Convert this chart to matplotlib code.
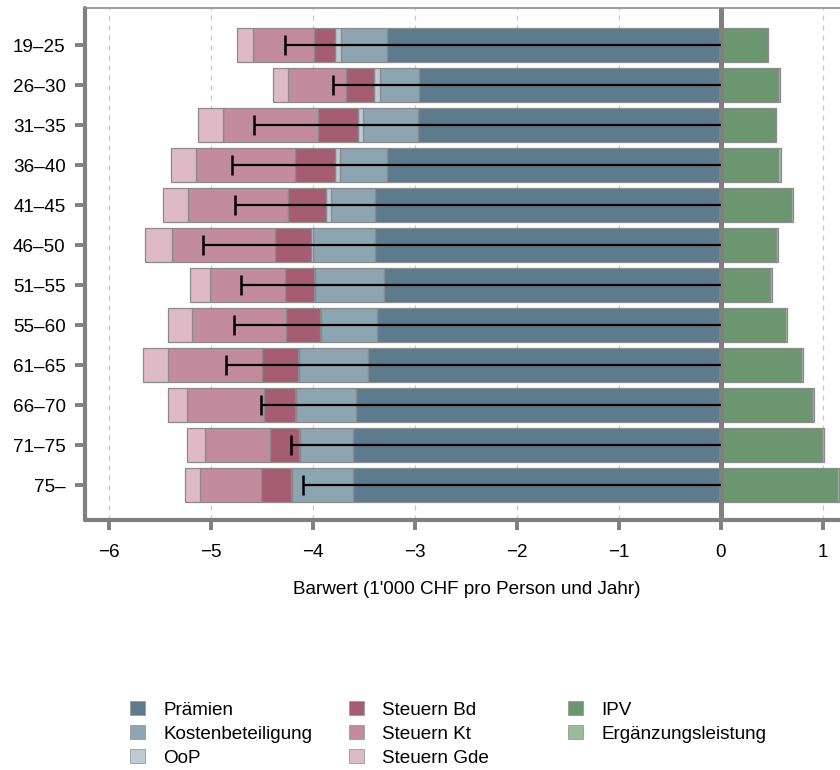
import numpy as np
import matplotlib
matplotlib.use("Agg")
import matplotlib.pyplot as plt
from matplotlib.patches import Patch

plt.rcParams['font.family'] = ['Liberation Sans', 'DejaVu Sans']

# age groups, top to bottom
groups = ["19–25", "26–30", "31–35", "36–40", "41–45", "46–50",
          "51–55", "55–60", "61–65", "66–70", "71–75", "75–"]

# costs (1'000 CHF), drawn to the left of zero
praemien = [3.27, 2.96, 2.97, 3.27, 3.385, 3.39, 3.30, 3.37, 3.46, 3.58, 3.605, 3.605]
kostenbet = [0.45, 0.38, 0.54, 0.465, 0.435, 0.61, 0.68, 0.55, 0.67, 0.58, 0.515, 0.60]
oop = [0.06, 0.06, 0.05, 0.045, 0.045, 0.02, 0.01, 0.01, 0.01, 0.01, 0.01, 0.01]
steuern_bd = [0.21, 0.27, 0.39, 0.39, 0.375, 0.35, 0.28, 0.33, 0.36, 0.31, 0.29, 0.29]
steuern_kt = [0.595, 0.57, 0.93, 0.97, 0.98, 1.01, 0.74, 0.92, 0.92, 0.75, 0.64, 0.595]
steuern_gde = [0.155, 0.145, 0.24, 0.25, 0.25, 0.26, 0.19, 0.24, 0.24, 0.19, 0.17, 0.155]

# benefits, drawn to the right of zero
ipv = [0.45, 0.565, 0.53, 0.56, 0.69, 0.54, 0.48, 0.627, 0.787, 0.895, 0.99, 1.137]
ergaenzung = [0.015, 0.015, 0.016, 0.035, 0.02, 0.02, 0.02, 0.02, 0.02, 0.02, 0.023, 0.023]

neg_series = [("Prämien", praemien, "#5d7b8d"),
              ("Kostenbeteiligung", kostenbet, "#8da4b1"),
              ("OoP", oop, "#bccbd4"),
              ("Steuern Bd", steuern_bd, "#a65d74"),
              ("Steuern Kt", steuern_kt, "#c38c9e"),
              ("Steuern Gde", steuern_gde, "#ddbac6")]
pos_series = [("IPV", ipv, "#6c9670"),
              ("Ergänzungsleistung", ergaenzung, "#9bbb9d")]

FS = 13.6

fig = plt.figure(figsize=(8.4, 7.7), dpi=100)
ax = fig.add_axes([85/840, 1 - 520/770, (849 - 85)/840, (520 - 8)/770])

y = np.arange(len(groups))
edge = "#8a8a8a"

left = np.zeros(len(groups))
for name, vals, col in neg_series:
    v = -np.array(vals)
    ax.barh(y, v, left=left, height=0.85, color=col, edgecolor=edge, linewidth=0.9, zorder=2)
    left = left + v
total_neg = left.copy()

left = np.zeros(len(groups))
for name, vals, col in pos_series:
    v = np.array(vals)
    ax.barh(y, v, left=left, height=0.85, color=col, edgecolor=edge, linewidth=0.9, zorder=2)
    left = left + v
net = total_neg + left

# zero line
ax.axvline(0, color="#808080", linewidth=3.6, zorder=3)

# net value: line from net to zero, cap at net
ax.hlines(y, net, 0, color="black", linewidth=1.6, zorder=4)
ax.vlines(net, y - 0.26, y + 0.26, color="black", linewidth=1.8, zorder=4)

ax.set_xlim(-6.232, 1.258)
ax.set_ylim(11.875, -0.925)
ax.set_xticks(np.arange(-6, 2))
ax.set_yticks(y)
ax.set_yticklabels(groups)

ax.xaxis.grid(True, color="#c8c8c8", linestyle=(0, (4, 4)), linewidth=0.9, zorder=0)
ax.set_axisbelow(True)

for s in ["left", "bottom"]:
    ax.spines[s].set_color("#808080")
    ax.spines[s].set_linewidth(3.0)
    ax.spines[s].set_capstyle("round")
ax.spines["top"].set_color("#8c8c8c")
ax.spines["top"].set_linewidth(1.2)
ax.spines["right"].set_visible(False)

ax.tick_params(axis="both", length=7, width=2.8, color="#808080", labelsize=FS,
               labelcolor="black")
ax.tick_params(axis="y", pad=7)
ax.tick_params(axis="x", pad=10)
for t in ax.yaxis.get_ticklines() + ax.xaxis.get_ticklines():
    t.set_solid_capstyle("round")

ax.set_xlabel("Barwert (1'000 CHF pro Person und Jahr)", fontsize=FS, labelpad=15)

# legend: three equally spaced columns
entries = neg_series + pos_series
cols = [entries[0:3], entries[3:6], entries[6:8]]
col_x = [130, 349, 568]
for xs, col in zip(col_x, cols):
    handles = [Patch(facecolor=c, edgecolor="#9a9a9a", linewidth=0.6, label=n) for n, _, c in col]
    fig.legend(handles=handles, loc="upper left", bbox_to_anchor=(xs/840, 1 - 701/770),
               frameon=False, fontsize=FS, handlelength=0.8, handleheight=0.8,
               handletextpad=0.95, labelspacing=0.33, borderpad=0, borderaxespad=0)

fig.savefig("out.png", dpi=100)
